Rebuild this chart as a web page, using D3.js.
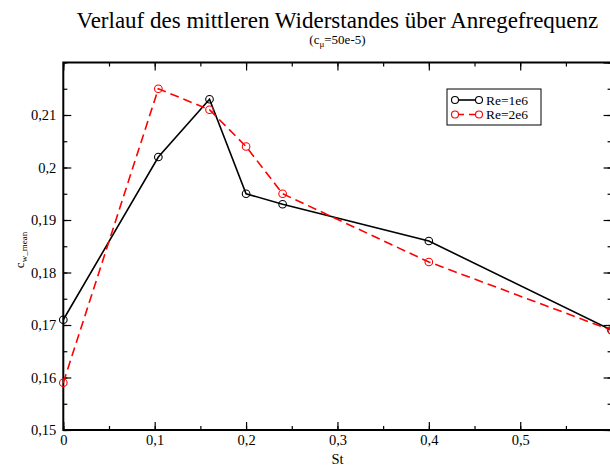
<!DOCTYPE html>
<html>
<head>
<meta charset="utf-8">
<script src="https://cdn.jsdelivr.net/npm/d3@7/dist/d3.min.js"></script>
<style>
  html, body { margin: 0; padding: 0; background: #fff; }
  svg { display: block; }
  svg text { font-family: "Liberation Serif", "DejaVu Serif", serif; fill: #000; }
</style>
</head>
<body>
<svg id="chart" width="610" height="467" font-family="Liberation Serif, serif"></svg>
<script>
// Strouhal numbers of the excitation and mean drag coefficients
const stRe1 = [0, 0.104, 0.16, 0.2, 0.24, 0.4, 0.6];
const cwRe1 = [0.171, 0.202, 0.213, 0.195, 0.193, 0.186, 0.169];
const stRe2 = [0, 0.104, 0.16, 0.2, 0.24, 0.4, 0.6];
const cwRe2 = [0.159, 0.215, 0.211, 0.204, 0.195, 0.182, 0.169];
const seriesNames = ["Re=1e6", "Re=2e6"];
const seriesColors = ["#000000", "#ff0000"];
const xMajorTicks = [0, 0.1, 0.2, 0.3, 0.4, 0.5, 0.6];
const yMajorTicks = [0.15, 0.16, 0.17, 0.18, 0.19, 0.2, 0.21, 0.22];

const FONT = "Liberation Serif, serif";
const svg = d3.select("#chart");
const plotLeft = 63.3, plotRight = 611.6, plotTop = 62.5, plotBottom = 430;

const x = d3.scaleLinear().domain([0, 0.6]).range([plotLeft, plotRight]);
const y = d3.scaleLinear().domain([0.15, 0.22]).range([plotBottom, plotTop]);

const fmt = d => String(+d.toFixed(3)).replace(".", ",");

const xMinor = d3.range(0, 0.6001, 0.05);
const yMinor = d3.range(0.15, 0.22001, 0.005);

function styleAxis(g) {
  g.attr("font-family", FONT).attr("font-size", 14);
  g.select(".domain").remove();
  g.selectAll("line").attr("stroke", "#000").attr("stroke-width", 1.2);
  g.selectAll("text").attr("font-family", FONT).style("font-size", "14.5px");
}

// minor ticks on all four sides
svg.append("g").attr("transform", `translate(0,${plotBottom})`)
  .call(d3.axisBottom(x).tickValues(xMinor).tickSize(-4).tickFormat(""))
  .call(styleAxis);
svg.append("g").attr("transform", `translate(0,${plotTop})`)
  .call(d3.axisTop(x).tickValues(xMinor).tickSize(-4).tickFormat(""))
  .call(styleAxis);
svg.append("g").attr("transform", `translate(${plotLeft},0)`)
  .call(d3.axisLeft(y).tickValues(yMinor).tickSize(-4).tickFormat(""))
  .call(styleAxis);
svg.append("g").attr("transform", `translate(${plotRight},0)`)
  .call(d3.axisRight(y).tickValues(yMinor).tickSize(-4).tickFormat(""))
  .call(styleAxis);

// major ticks with labels
svg.append("g").attr("transform", `translate(0,${plotBottom})`)
  .call(d3.axisBottom(x).tickValues(xMajorTicks.slice(0, -1)).tickSizeInner(-8).tickSizeOuter(0).tickPadding(5).tickFormat(fmt))
  .call(styleAxis);
svg.append("g").attr("transform", `translate(0,${plotTop})`)
  .call(d3.axisTop(x).tickValues(xMajorTicks).tickSizeInner(-8).tickSizeOuter(0).tickFormat(""))
  .call(styleAxis);
svg.append("g").attr("transform", `translate(${plotLeft},0)`)
  .call(d3.axisLeft(y).tickValues(yMajorTicks.slice(0, -1)).tickSizeInner(-8).tickSizeOuter(0).tickPadding(7).tickFormat(fmt))
  .call(styleAxis);
svg.append("g").attr("transform", `translate(${plotRight},0)`)
  .call(d3.axisRight(y).tickValues(yMajorTicks).tickSizeInner(-8).tickSizeOuter(0).tickFormat(""))
  .call(styleAxis);

// frame
svg.append("rect")
  .attr("x", plotLeft).attr("y", plotTop)
  .attr("width", plotRight - plotLeft).attr("height", plotBottom - plotTop)
  .attr("fill", "none").attr("stroke", "#000").attr("stroke-width", 2);

// data lines
const line = d3.line().x(d => x(d[0])).y(d => y(d[1]));
const data1 = stRe1.map((s, i) => [s, cwRe1[i]]);
const data2 = stRe2.map((s, i) => [s, cwRe2[i]]);

svg.append("path").datum(data1).attr("d", line)
  .attr("fill", "none").attr("stroke", seriesColors[0]).attr("stroke-width", 1.6);
svg.append("path").datum(data2).attr("d", line)
  .attr("fill", "none").attr("stroke", seriesColors[1]).attr("stroke-width", 1.6)
  .attr("stroke-dasharray", "9,5");

[[data1, seriesColors[0]], [data2, seriesColors[1]]].forEach(([d, c]) => {
  svg.append("g").selectAll("circle").data(d).join("circle")
    .attr("cx", p => x(p[0])).attr("cy", p => y(p[1])).attr("r", 3.8)
    .attr("fill", "none").attr("stroke", c).attr("stroke-width", 1.1);
});

// legend
const lg = svg.append("g").attr("font-family", FONT);
lg.append("rect").attr("x", 447).attr("y", 89).attr("width", 94).attr("height", 36)
  .attr("fill", "#fff").attr("stroke", "#000").attr("stroke-width", 1);
seriesNames.forEach((name, i) => {
  const ly = 100 + i * 14.5;
  lg.append("line").attr("x1", 455).attr("x2", 479).attr("y1", ly).attr("y2", ly)
    .attr("stroke", seriesColors[i]).attr("stroke-width", 1.6)
    .attr("stroke-dasharray", i === 1 ? "9,5" : null);
  [455, 479].forEach(cx => lg.append("circle").attr("cx", cx).attr("cy", ly).attr("r", 3.5)
    .attr("fill", "#fff").attr("stroke", seriesColors[i]).attr("stroke-width", 1.1));
  lg.append("text").attr("x", 486).attr("y", ly + 4.5).attr("font-family", FONT)
    .style("font-size", "13.5px").text(name);
});

// titles
const midX = (plotLeft + plotRight) / 2;
svg.append("text").attr("x", midX).attr("y", 28).attr("text-anchor", "middle")
  .attr("font-family", FONT).style("font-size", "23px")
  .text("Verlauf des mittleren Widerstandes über Anregefrequenz");
const sub = svg.append("text").attr("x", midX).attr("y", 44).attr("text-anchor", "middle")
  .attr("font-family", FONT).style("font-size", "13px");
sub.append("tspan").text("(c");
sub.append("tspan").attr("dy", 3).style("font-size", "9px").text("μ");
sub.append("tspan").attr("dy", -3).text("=50e-5)");

// axis titles
svg.append("text").attr("x", midX).attr("y", 464).attr("text-anchor", "middle")
  .attr("font-family", FONT).style("font-size", "14.5px").text("St");
const yl = svg.append("text").attr("transform", `translate(24,250) rotate(-90)`)
  .attr("text-anchor", "middle").attr("font-family", FONT).style("font-size", "13px");
yl.append("tspan").text("c");
yl.append("tspan").attr("dy", 3).style("font-size", "9px").text("w_mean");
</script>
</body>
</html>
